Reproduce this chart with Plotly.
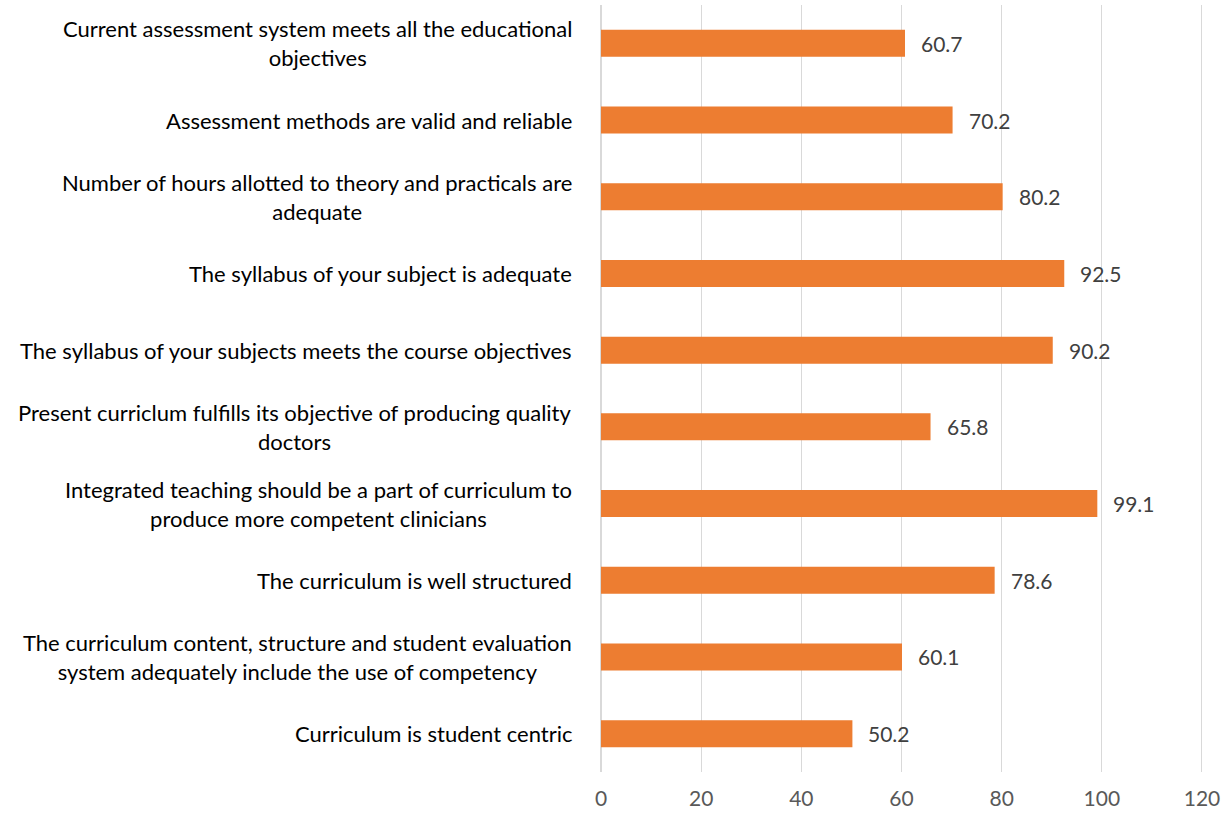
import plotly.graph_objects as go

# categories listed top to bottom as in the chart
categories = [
    "Current assessment system meets all the educational<br>objectives",
    "Assessment methods are valid and reliable",
    "Number of hours allotted to theory and practicals are<br>adequate",
    "The syllabus of your subject is adequate",
    "The syllabus of your subjects meets the course objectives",
    "Present curriclum fulfills its objective of producing quality<br>doctors",
    "Integrated teaching should be a part of curriculum to<br>produce more competent clinicians",
    "The curriculum is well structured",
    "The curriculum content, structure and student evaluation<br>system adequately include the use of competency",
    "Curriculum is student centric",
]
values = [60.7, 70.2, 80.2, 92.5, 90.2, 65.8, 99.1, 78.6, 60.1, 50.2]
x_ticks = [0, 20, 40, 60, 80, 100, 120]

FONT = "Lato"
ORANGE = "#ED7D31"

fig = go.Figure()
fig.add_trace(go.Bar(
    x=values, y=categories, orientation="h",
    marker=dict(color=ORANGE, line=dict(width=0)),
    showlegend=False, hoverinfo="x+y",
))

# value labels a little to the right of each bar
for c, v in zip(categories, values):
    fig.add_annotation(
        x=v, xref="x", y=c, yref="y", text=f"{v:.1f}", showarrow=False,
        xanchor="left", xshift=14,
        font=dict(family=FONT, size=21, color="#404040"),
    )

# category labels as annotations so wrapped lines are centred like the original
for c in categories:
    fig.add_annotation(
        x=0, xref="paper", y=c, yref="y", text=c, showarrow=False,
        xanchor="right", align="center", xshift=-27,
        font=dict(family=FONT, size=22, color="#000000"),
    )

fig.update_layout(
    width=1224, height=814,
    margin=dict(l=601, r=17, t=5, b=42),
    plot_bgcolor="white", paper_bgcolor="white",
    bargap=0.648,
    font=dict(family=FONT),
)
# range runs a touch past 120 so the last gridline is still drawn
fig.update_xaxes(
    range=[0, 121], tickvals=x_ticks, showgrid=True, gridcolor="#D9D9D9", gridwidth=1,
    zeroline=True, zerolinecolor="#D9D9D9", showline=False,
    tickfont=dict(family=FONT, size=21, color="#595959"), ticklabelstandoff=12,
    ticklabeloverflow="allow", automargin=False,
)
fig.update_yaxes(autorange="reversed", showticklabels=False, showgrid=False,
                 zeroline=False, showline=False, automargin=False)

# drop the default body margin so the figure fills the window
fig.write_html("out.html", config={"displayModeBar": False},
               post_script="document.body.style.margin='0';")
